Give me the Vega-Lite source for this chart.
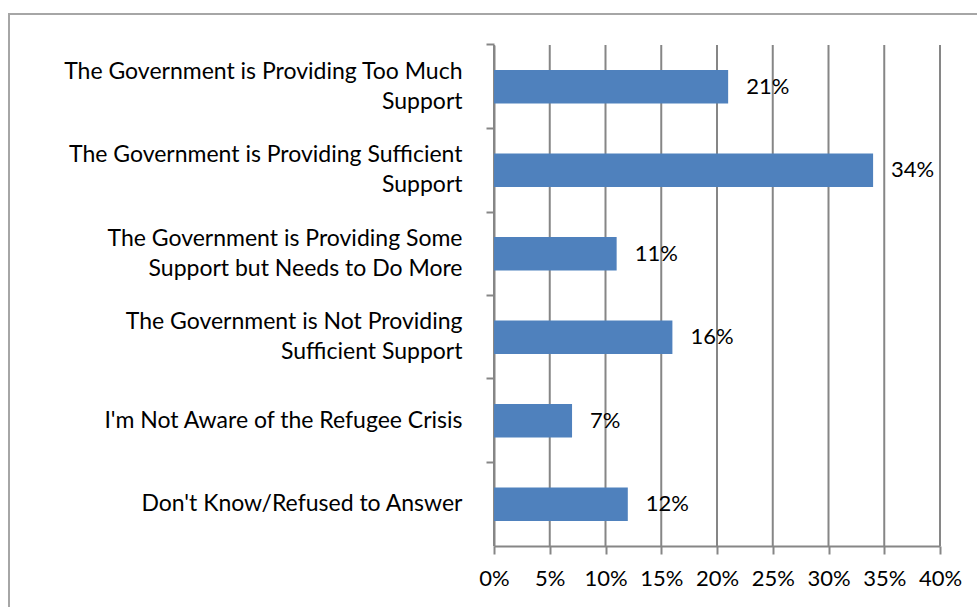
{
  "$schema": "https://vega.github.io/schema/vega-lite/v6.json",
  "autosize": {"type": "none"},
  "padding": {"left": 9, "top": 14, "right": 0, "bottom": 0},
  "width": 990,
  "height": 620,
  "background": "white",
  "config": {
    "view": {"stroke": "#a6a6a6", "strokeWidth": 2},
    "font": "Lato",
    "axis": {
      "labelFont": "Lato",
      "labelColor": "#000000",
      "domainColor": "#868686",
      "domainWidth": 2,
      "tickColor": "#868686",
      "tickWidth": 2,
      "tickSize": 8,
      "title": null
    }
  },
  "datasets": {
    "responses": [
      {"response": "The Government is Providing Too Much|Support", "share": 0.21},
      {"response": "The Government is Providing Sufficient|Support", "share": 0.34},
      {"response": "The Government is Providing Some|Support but Needs to Do More", "share": 0.11},
      {"response": "The Government is Not Providing|Sufficient Support", "share": 0.16},
      {"response": "I'm Not Aware of the Refugee Crisis", "share": 0.07},
      {"response": "Don't Know/Refused to Answer", "share": 0.12}
    ],
    "gridlines": [
      {"tick": 0}, {"tick": 0.05}, {"tick": 0.1}, {"tick": 0.15}, {"tick": 0.2},
      {"tick": 0.25}, {"tick": 0.3}, {"tick": 0.35}, {"tick": 0.4}
    ]
  },
  "layer": [
    {
      "data": {"name": "gridlines"},
      "mark": {"type": "rule", "color": "#868686", "strokeWidth": 2},
      "encoding": {
        "x": {
          "field": "tick",
          "type": "quantitative",
          "scale": {"domain": [0, 0.4], "range": [485, 931], "nice": false},
          "axis": {
            "offset": -88,
            "values": [0, 0.05, 0.1, 0.15, 0.2, 0.25, 0.3, 0.35, 0.4],
            "format": ".0%",
            "labelFontSize": 22,
            "labelPadding": 14,
            "labelFlush": false,
            "labelOverlap": false,
            "grid": false
          }
        },
        "y": {"datum": 0, "type": "quantitative", "scale": {"domain": [0, 1], "range": [31, 532], "nice": false, "zero": false}, "axis": null},
        "y2": {"datum": 1}
      }
    },
    {
      "data": {"name": "responses"},
      "encoding": {
        "x": {
          "field": "share",
          "type": "quantitative",
          "scale": {"domain": [0, 0.4], "range": [485, 931], "nice": false},
          "axis": {
            "offset": -88,
            "values": [0, 0.05, 0.1, 0.15, 0.2, 0.25, 0.3, 0.35, 0.4],
            "format": ".0%",
            "labelFontSize": 22,
            "labelPadding": 14,
            "labelFlush": false,
            "labelOverlap": false,
            "grid": false
          }
        },
        "y": {
          "field": "response",
          "type": "nominal",
          "sort": null,
          "scale": {"range": [31, 532], "paddingInner": 0.6, "paddingOuter": 0.3},
          "axis": {
            "orient": "left",
            "offset": -485,
            "bandPosition": -0.75,
            "labelExpr": "split(datum.label, '|')",
            "labelFontSize": 23,
            "labelLineHeight": 30,
            "labelPadding": 24,
            "labelLimit": 600,
            "labelAlign": "right",
            "labelBaseline": "middle",
            "labelOffset": {"condition": {"test": "indexof(datum.value, '|') >= 0", "value": -15}, "value": 0},
            "grid": false
          }
        }
      },
      "layer": [
        {"mark": {"type": "bar", "color": "#4F81BD"}},
        {
          "mark": {"type": "text", "align": "left", "baseline": "middle", "dx": 18, "fontSize": 22, "color": "#000000"},
          "encoding": {"text": {"field": "share", "type": "quantitative", "format": ".0%"}}
        }
      ]
    }
  ],
  "resolve": {"scale": {"y": "independent"}}
}
